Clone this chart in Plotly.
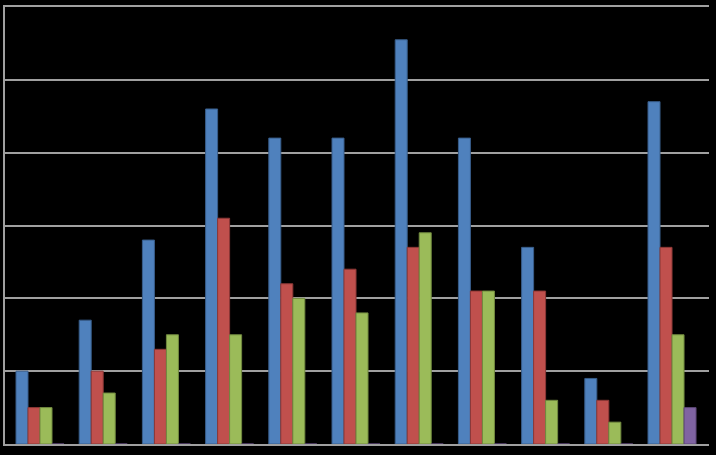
import plotly.graph_objects as go

categories = ["1", "2", "3", "4", "5", "6", "7", "8", "9", "10", "11"]
series_blue = [10, 17, 28, 46, 42, 42, 55.5, 42, 27, 9, 47]
series_red = [5, 10, 13, 31, 22, 24, 27, 21, 21, 6, 27]
series_green = [5, 7, 15, 15, 20, 18, 29, 21, 6, 3, 15]
series_purple = [0, 0, 0, 0, 0, 0, 0, 0, 0, 0, 5]

colors = ["#4F81BD", "#C0504D", "#9BBB59", "#8064A2"]
edges = ["#385D8A", "#8C3836", "#71893F", "#5C4776"]
names = ["Series 1", "Series 2", "Series 3", "Series 4"]

fig = go.Figure()
for vals, c, e, n in zip([series_blue, series_red, series_green, series_purple], colors, edges, names):
    fig.add_trace(go.Bar(x=categories, y=vals, name=n,
                         marker=dict(color=c, line=dict(color=e, width=1))))

fig.update_layout(
    width=716, height=455,
    margin=dict(l=5, r=7, t=7, b=11),
    paper_bgcolor="black", plot_bgcolor="black",
    barmode="group", bargap=0.24, bargroupgap=0,
    showlegend=False,
    xaxis=dict(range=[-0.554, 10.585], showticklabels=False, showgrid=False,
               zeroline=False, showline=True, mirror=True,
               linecolor="#a0a0a0", linewidth=2, ticks=""),
    yaxis=dict(range=[0, 60], dtick=10, showticklabels=False,
               showgrid=True, gridcolor="#a0a0a0", gridwidth=2,
               zeroline=False, showline=True, linecolor="#a0a0a0", linewidth=2,
               ticks=""),
)

fig.write_html("out.html", config={"displayModeBar": False},
               post_script="document.body.style.margin='0';")
